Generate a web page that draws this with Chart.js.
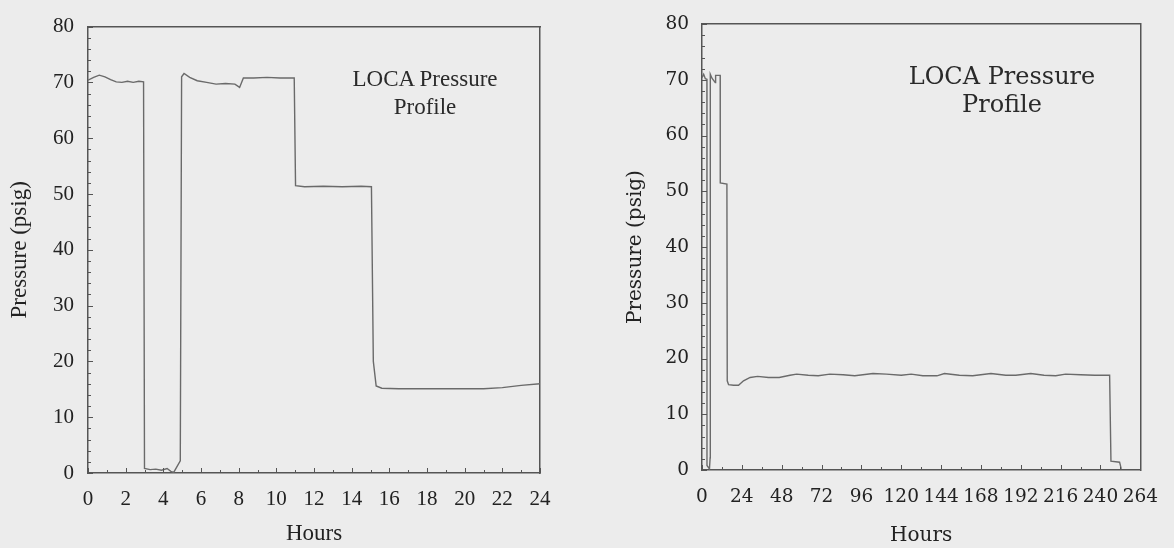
<!DOCTYPE html>
<html>
<head>
<meta charset="utf-8">
<script src="https://cdn.jsdelivr.net/npm/chart.js@4"></script>
<style>
  html, body { margin:0; padding:0; background:#ececec; }
  #wrap { position:relative; width:1174px; height:548px; background:#ececec; overflow:hidden; }
  canvas { position:absolute; top:0; }
  #cL { left:0; }
  #cR { left:587px; }
  .note { position:absolute; text-align:center; color:#2a2a2a; white-space:nowrap; }
  #noteL { left:325px; width:200px; top:65px; font-family:'Liberation Serif', serif; font-size:23px; line-height:28px; }
  #noteR { left:892px; width:220px; top:62px; font-family:'DejaVu Serif', serif; font-size:24px; line-height:28px; }
</style>
</head>
<body>
<div id="wrap">
  <canvas id="cL" width="587" height="548"></canvas>
  <canvas id="cR" width="587" height="548"></canvas>
  <div class="note" id="noteL">LOCA Pressure<br>Profile</div>
  <div class="note" id="noteR">LOCA Pressure<br>Profile</div>
</div>
<script>
// ---- Data ----
const leftHours = [0.0,0.3,0.6,0.9,1.2,1.5,1.8,2.1,2.4,2.7,2.95,3.0,3.3,3.6,3.9,4.2,4.4,4.55,4.9,4.97,5.1,5.4,5.8,6.3,6.8,7.3,7.8,8.05,8.25,8.8,9.5,10.2,10.95,11.02,11.5,12.5,13.5,14.5,15.05,15.15,15.3,15.6,16.5,18,19.5,21,22,23,24];
const leftPsig  = [70.4,70.9,71.3,71.0,70.5,70.1,70.0,70.2,70.0,70.2,70.1,0.8,0.6,0.7,0.5,0.8,0.3,0.1,2.2,71.0,71.6,70.9,70.3,70.0,69.7,69.8,69.7,69.1,70.8,70.8,70.9,70.8,70.8,51.5,51.3,51.4,51.3,51.4,51.3,20.0,15.6,15.2,15.1,15.1,15.1,15.1,15.3,15.7,16.0];

const rightHours = [0,1,2,2.95,3.0,4.5,4.9,5.0,6,8,8.2,10.95,11.0,15.0,15.2,16,19,22,25,29,33.5,40,46.5,53,57,64,70,77,85,92,103,111,120,126,133,141.5,146,155,163,174,183,189,198,206,213,219,228,236.5,245.5,246.3,251.5,252.5];
const rightPsig  = [70.4,71.0,70.2,70.1,0.8,0.2,2.2,71.0,70.3,69.5,70.8,70.8,51.5,51.3,16.0,15.3,15.2,15.2,16.0,16.6,16.8,16.6,16.6,17.0,17.2,17.0,16.9,17.2,17.1,16.9,17.3,17.2,17.0,17.2,16.9,16.9,17.3,17.0,16.9,17.3,17.0,17.0,17.3,17.0,16.9,17.2,17.1,17.0,17.0,1.6,1.4,0.2];

const yTickStep = 10;
const leftXStep = 2;
const rightXStep = 24;

const yTitle = 'Pressure (psig)';
const xTitle = 'Hours';

// ---- inner tick marks plugin (uses the chart's own scales) ----
const innerTicks = {
  id: 'innerTicks',
  afterDatasetsDraw(chart, args, o) {
    const {ctx, chartArea} = chart;
    const x = chart.scales.x, y = chart.scales.y;
    ctx.save();
    ctx.strokeStyle = o.color;
    ctx.lineWidth = 1;
    ctx.beginPath();
    for (let k = 0; x.min + k * o.xMinor <= x.max + 1e-9; k++) {
      const v = x.min + k * o.xMinor;
      const px = Math.round(x.getPixelForValue(v)) + 0.5;
      const len = (k % o.xEvery === 0) ? o.major : o.minor;
      ctx.moveTo(px, chartArea.bottom);
      ctx.lineTo(px, chartArea.bottom - len);
    }
    for (let k = 0; y.min + k * o.yMinor <= y.max + 1e-9; k++) {
      const v = y.min + k * o.yMinor;
      const py = Math.round(y.getPixelForValue(v)) + 0.5;
      const len = (k % o.yEvery === 0) ? o.major : o.minor;
      ctx.moveTo(chartArea.left, py);
      ctx.lineTo(chartArea.left + len, py);
    }
    ctx.stroke();
    ctx.restore();
  }
};

function makeChart(id, hours, psig, cfg) {
  const axisColor = '#555';
  const textColor = '#222';
  const hidden = (pos, min, max, size) => ({
    type: 'linear', position: pos, min, max,
    ticks: { display: false },
    grid: { display: true, drawOnChartArea: false, drawTicks: false },
    border: { display: true, color: axisColor, width: 1.5 },
    afterFit(s) { if (pos === 'top') s.height = size; else s.width = size; }
  });
  return new Chart(document.getElementById(id), {
    type: 'line',
    data: {
      datasets: [{
        data: hours.map((h, i) => ({ x: h, y: psig[i] })),
        borderColor: '#6a6a6a',
        borderWidth: 1.4,
        pointRadius: 0,
        tension: 0,
        fill: false
      }]
    },
    options: {
      responsive: false,
      animation: false,
      layout: { padding: 0 },
      plugins: {
        legend: { display: false },
        tooltip: { enabled: false },
        innerTicks: { color: axisColor, major: 5, minor: 3, xMinor: cfg.xMinor, xEvery: cfg.xEvery, yMinor: 2, yEvery: 5 }
      },
      scales: {
        x: {
          type: 'linear', position: 'bottom', min: 0, max: cfg.xMax,
          ticks: { stepSize: cfg.xStep, autoSkip: false, maxRotation: 0, padding: cfg.xPad, color: textColor, font: { family: cfg.font, size: cfg.tickSize } },
          grid: { display: true, drawOnChartArea: false, drawTicks: false },
          border: { display: true, color: axisColor, width: 1.5 },
          title: { display: true, text: xTitle, color: textColor, font: { family: cfg.font, size: cfg.titleSize }, padding: { top: 0, bottom: cfg.xTitlePad } },
          afterFit(s) { s.height = cfg.bottomH; }
        },
        y: {
          type: 'linear', position: 'left', min: 0, max: 80,
          ticks: { stepSize: yTickStep, padding: cfg.yPad, color: textColor, font: { family: cfg.font, size: cfg.tickSize } },
          grid: { display: true, drawOnChartArea: false, drawTicks: false },
          border: { display: true, color: axisColor, width: 1.5 },
          title: { display: true, text: yTitle, color: textColor, font: { family: cfg.font, size: cfg.titleSize }, padding: { top: cfg.yTitlePad, bottom: 0 } },
          afterFit(s) { s.width = cfg.leftW; }
        },
        xTop: hidden('top', 0, cfg.xMax, cfg.topH),
        yRight: hidden('right', 0, 80, cfg.rightW)
      }
    },
    plugins: [innerTicks]
  });
}

makeChart('cL', leftHours, leftPsig, {
  xMax: 24, xStep: leftXStep, xMinor: 1, xEvery: 2,
  font: "'Liberation Serif', serif", tickSize: 21, titleSize: 23,
  xPad: 14, yPad: 14, xTitlePad: 0, yTitlePad: 6,
  leftW: 88, rightW: 47, topH: 21, bottomH: 75
});

makeChart('cR', rightHours, rightPsig, {
  xMax: 264, xStep: rightXStep, xMinor: 12, xEvery: 2,
  font: "'DejaVu Serif', serif", tickSize: 18.5, titleSize: 20,
  xPad: 16, yPad: 13, xTitlePad: 0, yTitlePad: 37,
  leftW: 115, rightW: 18, topH: 16, bottomH: 78
});
</script>
</body>
</html>
